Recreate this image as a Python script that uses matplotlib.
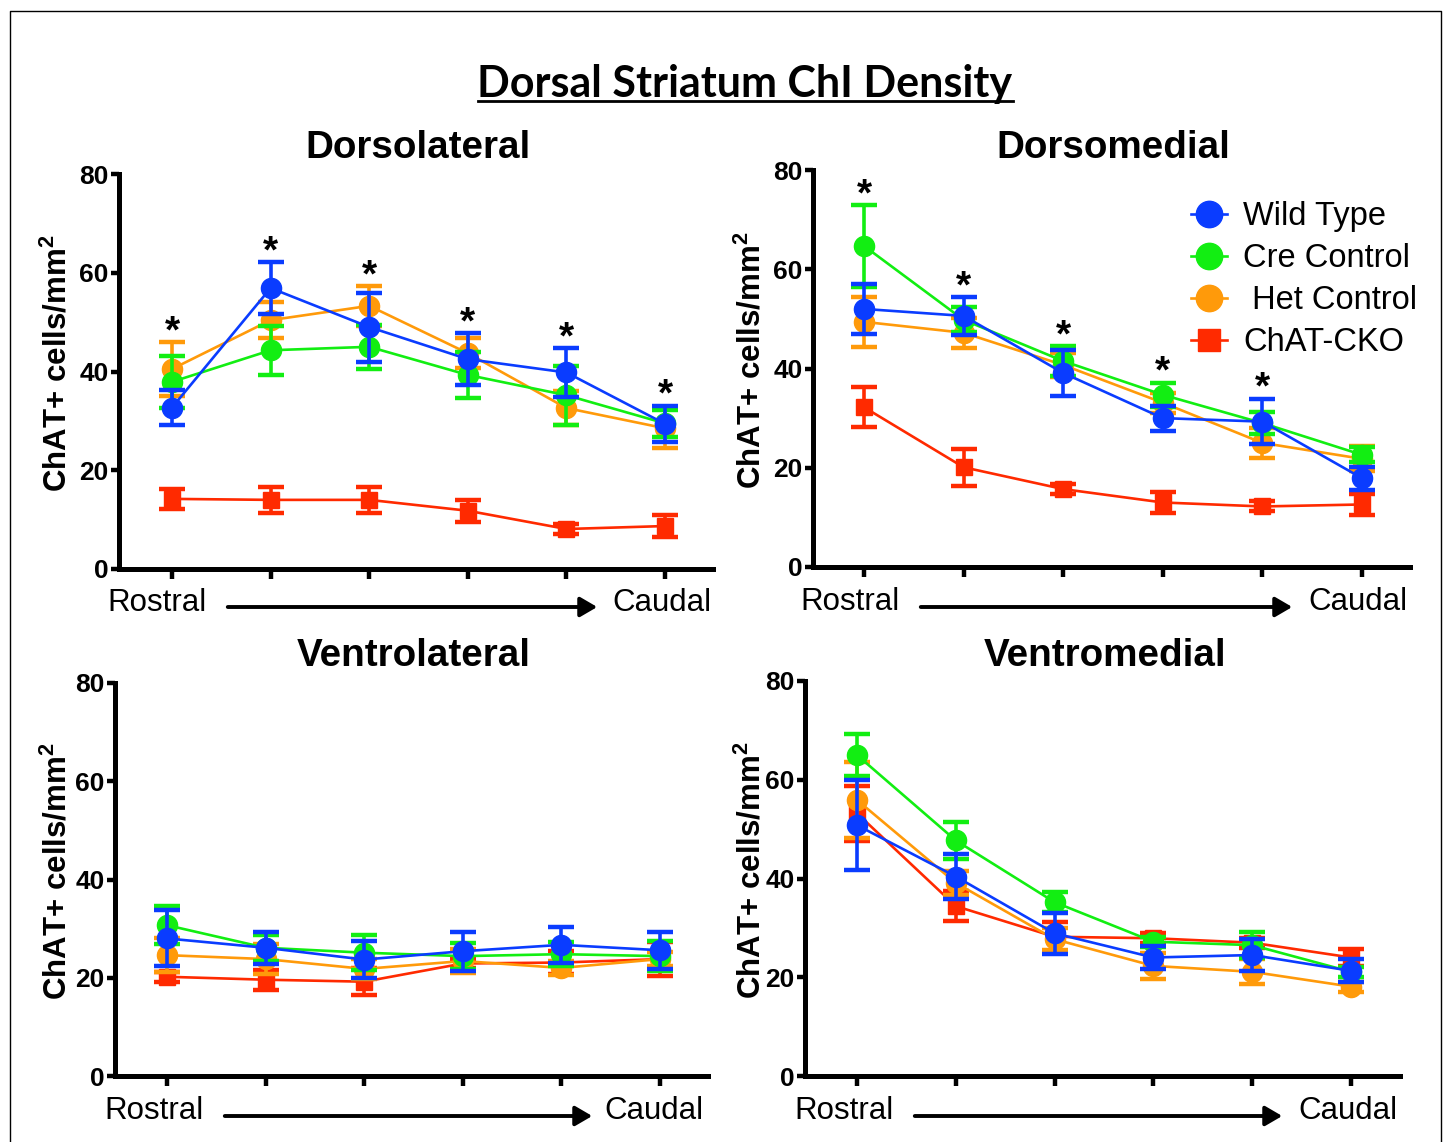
import matplotlib
matplotlib.use("Agg")
import matplotlib.pyplot as plt
from matplotlib.lines import Line2D
from matplotlib.patches import FancyArrowPatch
import numpy as np

# ---------------- data ----------------
positions = [0, 1, 2, 3, 4, 5]
series_names = ["Wild Type", "Cre Control", " Het Control", "ChAT-CKO"]
panel_titles = ["Dorsolateral", "Dorsomedial", "Ventrolateral", "Ventromedial"]
main_title = "Dorsal Striatum ChI Density"
y_ticks = [0, 20, 40, 60, 80]
y_label = r"ChAT+ cells/mm$^\mathbf{2}$"

# Dorsolateral
dl_wt = [32.7, 56.9, 49.0, 42.5, 39.8, 29.4]
dl_wt_err = [3.6, 5.2, 7.0, 5.3, 4.9, 3.7]
dl_cre = [37.9, 44.3, 45.0, 39.3, 35.2, 29.5]
dl_cre_err = [5.3, 5.0, 4.5, 4.7, 6.0, 2.7]
dl_het = [40.5, 50.4, 53.3, 43.7, 32.6, 28.5]
dl_het_err = [5.5, 3.7, 4.0, 3.0, 3.5, 4.0]
dl_cko = [14.2, 14.0, 14.0, 11.8, 8.1, 8.7]
dl_cko_err = [2.0, 2.7, 2.7, 2.2, 1.0, 2.3]
dl_sig = [1, 1, 1, 1, 1, 1]

# Dorsomedial
dm_wt = [52.0, 50.6, 39.1, 30.0, 29.3, 17.9]
dm_wt_err = [5.1, 3.8, 4.6, 2.5, 4.6, 2.3]
dm_cre = [64.7, 49.8, 41.5, 34.7, 29.0, 22.6]
dm_cre_err = [8.2, 2.5, 3.0, 2.4, 2.2, 1.5]
dm_het = [49.4, 47.2, 40.7, 33.1, 25.0, 21.8]
dm_het_err = [5.0, 3.0, 2.5, 2.0, 3.0, 2.5]
dm_cko = [32.2, 20.1, 15.7, 13.0, 12.2, 12.6]
dm_cko_err = [4.0, 3.7, 1.0, 2.2, 1.0, 2.2]
dm_sig = [1, 1, 1, 1, 1, 0]

# Ventrolateral
vl_wt = [28.0, 26.1, 23.7, 25.4, 26.7, 25.6]
vl_wt_err = [5.7, 3.2, 3.8, 4.0, 3.7, 3.8]
vl_cre = [30.7, 26.1, 25.1, 24.4, 24.8, 24.4]
vl_cre_err = [3.9, 2.6, 3.6, 2.7, 2.5, 3.0]
vl_het = [24.6, 23.8, 21.8, 23.4, 22.0, 23.8]
vl_het_err = [3.4, 3.0, 2.0, 2.5, 1.5, 1.5]
vl_cko = [20.2, 19.6, 19.2, 22.9, 23.1, 23.8]
vl_cko_err = [1.0, 2.0, 2.7, 1.0, 2.3, 3.5]
vl_sig = [0, 0, 0, 0, 0, 0]

# Ventromedial
vm_wt = [50.8, 40.4, 28.9, 24.0, 24.5, 21.3]
vm_wt_err = [9.1, 4.5, 4.1, 2.3, 3.2, 2.3]
vm_cre = [65.0, 47.7, 35.2, 27.2, 26.5, 21.1]
vm_cre_err = [4.2, 3.7, 2.0, 1.0, 2.7, 1.0]
vm_het = [55.9, 39.1, 27.7, 22.3, 21.1, 18.1]
vm_het_err = [7.7, 2.5, 2.2, 2.7, 2.5, 1.0]
vm_cko = [53.2, 34.4, 28.2, 27.9, 27.0, 24.0]
vm_cko_err = [5.6, 3.0, 3.0, 1.0, 1.0, 1.7]
vm_sig = [0, 0, 0, 0, 0, 0]

# ---------------- style ----------------
W, H = 1446, 1142
colors = {"wt": "#0A3CFF", "cre": "#12EE12", "het": "#FF9A0A", "cko": "#FF2A00"}
SANS = ["Liberation Sans", "DejaVu Sans"]
plt.rcParams["font.family"] = SANS
plt.rcParams["mathtext.fontset"] = "custom"
plt.rcParams["mathtext.rm"] = "Liberation Sans"
plt.rcParams["mathtext.bf"] = "Liberation Sans:bold"

fig = plt.figure(figsize=(W / 100, H / 100), dpi=100)


def fx(px):
    return px / W


def fy(py):
    return 1 - py / H


# panel geometry in pixels: (axis left, axis right, y=80 pixel, y=0 pixel, first tick px, last tick px)
geom = [
    (119, 713, 174, 569, 172, 665),
    (813, 1410, 170, 567, 864, 1362),
    (115, 708, 683, 1076, 167, 660),
    (805, 1400, 681, 1076, 857, 1351),
]

panels = [
    (dl_wt, dl_wt_err, dl_cre, dl_cre_err, dl_het, dl_het_err, dl_cko, dl_cko_err, dl_sig),
    (dm_wt, dm_wt_err, dm_cre, dm_cre_err, dm_het, dm_het_err, dm_cko, dm_cko_err, dm_sig),
    (vl_wt, vl_wt_err, vl_cre, vl_cre_err, vl_het, vl_het_err, vl_cko, vl_cko_err, vl_sig),
    (vm_wt, vm_wt_err, vm_cre, vm_cre_err, vm_het, vm_het_err, vm_cko, vm_cko_err, vm_sig),
]

title_pos = [(418, 148), (1113, 148), (414, 656), (1105, 656)]
ylabel_x = [58, 752, 58, 752]
text_rows = [(603, 607), (602, 607), (1111, 1116), (1111, 1116)]
rostral_left = [107, 800, 104, 794]
arrow_span = [(225, 600), (918, 1295), (222, 595), (912, 1285)]
caudal_right = [711, 1408, 704, 1398]

axes = []
for i, (g, p) in enumerate(zip(geom, panels)):
    left, right, ytop, ybot, t0, t5 = g
    ax = fig.add_axes([fx(left), fy(ybot), (right - left) / W, (ybot - ytop) / H])
    axes.append(ax)
    unit = (t5 - t0) / 5.0
    ax.set_xlim(-(t0 - left) / unit, 5 + (right - t5) / unit)
    ax.set_ylim(0, 80)
    ax.set_yticks(y_ticks)
    ax.set_yticklabels([str(v) for v in y_ticks], fontsize=19, fontweight="bold")
    ax.set_xticks(positions)
    ax.set_xticklabels([])
    for s in ["top", "right"]:
        ax.spines[s].set_visible(False)
    for s in ["left", "bottom"]:
        ax.spines[s].set_linewidth(3.6)
        ax.spines[s].set_capstyle("projecting")
    ax.tick_params(axis="y", length=6, width=3.2, pad=1.5, direction="out")
    ax.tick_params(axis="x", length=7, width=3.2, direction="out")
    ax.patch.set_visible(False)

    wt, wte, cre, cree, het, hete, cko, ckoe, sig = p
    order = [
        (cko, ckoe, colors["cko"], "s", 12),
        (het, hete, colors["het"], "o", 14.5),
        (cre, cree, colors["cre"], "o", 14.5),
        (wt, wte, colors["wt"], "o", 14.5),
    ]
    for z, (vals, errs, c, m, ms) in enumerate(order):
        ax.errorbar(positions, vals, yerr=errs, color=c, marker=m, markersize=ms,
                    linewidth=1.9, elinewidth=2.6, capsize=9.5, capthick=3.2,
                    clip_on=False, zorder=3 + z)

    # significance asterisks
    tops = np.max(np.array([np.array(v) + np.array(e) for v, e, *_ in order]), axis=0)
    for x, s, t in zip(positions, sig, tops):
        if s:
            ax.text(x, t + 2.0, "*", ha="center", va="center", fontsize=28,
                    fontweight="bold", zorder=10)

    # panel title
    tx, ty = title_pos[i]
    fig.text(fx(tx), fy(ty), panel_titles[i], ha="center", va="center",
             fontsize=27.8, fontweight="bold")
    # y label
    fig.text(fx(ylabel_x[i]), fy((ytop + ybot) / 2 - 8), y_label, rotation=90,
             ha="center", va="center", fontsize=22.5, fontweight="bold")
    # Rostral / Caudal and arrow
    trow, arow = text_rows[i]
    fig.text(fx(rostral_left[i]), fy(trow), "Rostral", ha="left", va="center", fontsize=22.5)
    fig.text(fx(caudal_right[i]), fy(trow), "Caudal", ha="right", va="center", fontsize=22.5)
    a0, a1 = arrow_span[i]
    arr = FancyArrowPatch((fx(a0), fy(arow)), (fx(a1), fy(arow)), transform=fig.transFigure,
                          arrowstyle="-|>,head_length=0.6,head_width=0.35",
                          mutation_scale=17, linewidth=2.8, color="black")
    fig.add_artist(arr)

# legend in Dorsomedial panel
handles = [
    Line2D([], [], color=colors["wt"], marker="o", markersize=19, linewidth=1.9),
    Line2D([], [], color=colors["cre"], marker="o", markersize=19, linewidth=1.9),
    Line2D([], [], color=colors["het"], marker="o", markersize=19, linewidth=1.9),
    Line2D([], [], color=colors["cko"], marker="s", markersize=16, linewidth=1.9),
]
fig.legend(handles, series_names, loc="upper left", bbox_to_anchor=(fx(1191), fy(201)),
           bbox_transform=fig.transFigure, frameon=False, fontsize=23.5,
           handlelength=1.1, handletextpad=0.5, labelspacing=0.34, borderpad=0,
           borderaxespad=0)

# main title with underline
fig.text(fx(745), fy(84), main_title, ha="center", va="center", fontsize=31,
         fontweight="bold", family=["Lato", "Liberation Sans", "DejaVu Sans"])
fig.add_artist(Line2D([fx(478), fx(1013)], [fy(101), fy(101)], transform=fig.transFigure,
                      color="black", linewidth=2.0))

# outer frame (left, top, right)
fig.add_artist(Line2D([fx(10), fx(10), fx(1441), fx(1441)], [0, fy(11), fy(11), 0],
                      transform=fig.transFigure, color="black", linewidth=1.0))

fig.savefig("out.png", dpi=100, facecolor="white")
